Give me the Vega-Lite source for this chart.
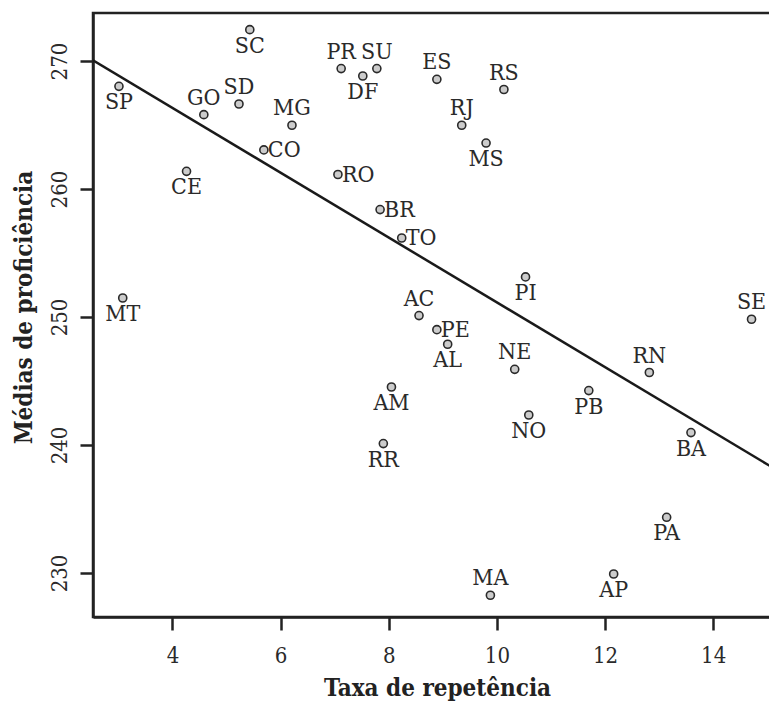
{
  "$schema": "https://vega.github.io/schema/vega-lite/v6.json",
  "autosize": "none",
  "width": 678,
  "height": 604,
  "padding": {"left": 93, "top": 13, "right": 0, "bottom": 86},
  "background": "white",
  "config": {
    "view": {"stroke": "#222222", "strokeWidth": 2.5},
    "font": "DejaVu Serif Condensed, DejaVu Serif",
    "axis": {
      "domainColor": "#222222", "domainWidth": 2.5,
      "tickColor": "#222222", "tickWidth": 2.5, "tickSize": 13,
      "labelFont": "DejaVu Serif Condensed, DejaVu Serif", "labelFontSize": 22, "labelColor": "#2a2a2a",
      "titleFont": "DejaVu Serif Condensed, DejaVu Serif", "titleFontSize": 24, "titleFontWeight": "bold", "titleColor": "#222222",
      "grid": false
    }
  },
  "datasets": {
    "ufs": [
      {"uf": "SC", "taxa": 5.43, "media": 272.45},
      {"uf": "SP", "taxa": 3.01, "media": 268.02},
      {"uf": "GO", "taxa": 4.58, "media": 265.81},
      {"uf": "SD", "taxa": 5.23, "media": 266.64},
      {"uf": "PR", "taxa": 7.12, "media": 269.41},
      {"uf": "DF", "taxa": 7.52, "media": 268.83},
      {"uf": "SU", "taxa": 7.78, "media": 269.41},
      {"uf": "MG", "taxa": 6.21, "media": 264.98},
      {"uf": "CO", "taxa": 5.69, "media": 263.05},
      {"uf": "CE", "taxa": 4.26, "media": 261.38},
      {"uf": "RO", "taxa": 7.06, "media": 261.13},
      {"uf": "BR", "taxa": 7.84, "media": 258.39},
      {"uf": "MT", "taxa": 3.08, "media": 251.48},
      {"uf": "ES", "taxa": 8.89, "media": 268.57},
      {"uf": "RS", "taxa": 10.13, "media": 267.77},
      {"uf": "RJ", "taxa": 9.35, "media": 264.98},
      {"uf": "MS", "taxa": 9.80, "media": 263.59},
      {"uf": "TO", "taxa": 8.24, "media": 256.17},
      {"uf": "PI", "taxa": 10.53, "media": 253.13},
      {"uf": "SE", "taxa": 14.71, "media": 249.82},
      {"uf": "AC", "taxa": 8.56, "media": 250.11},
      {"uf": "PE", "taxa": 8.89, "media": 249.01},
      {"uf": "AL", "taxa": 9.09, "media": 247.87},
      {"uf": "NE", "taxa": 10.33, "media": 245.91},
      {"uf": "RN", "taxa": 12.82, "media": 245.66},
      {"uf": "AM", "taxa": 8.05, "media": 244.53},
      {"uf": "PB", "taxa": 11.70, "media": 244.25},
      {"uf": "NO", "taxa": 10.59, "media": 242.34},
      {"uf": "RR", "taxa": 7.90, "media": 240.11},
      {"uf": "BA", "taxa": 13.59, "media": 240.97},
      {"uf": "PA", "taxa": 13.14, "media": 234.35},
      {"uf": "AP", "taxa": 12.16, "media": 229.92},
      {"uf": "MA", "taxa": 9.88, "media": 228.26}
    ],
    "fit": [
      {"taxa": 2.53, "media": 270.05},
      {"taxa": 15.07, "media": 238.31}
    ]
  },
  "encoding": {
    "x": {
      "field": "taxa", "type": "quantitative",
      "scale": {"domain": [2.53, 15.07], "nice": false, "zero": false},
      "axis": {"values": [4, 6, 8, 10, 12, 14], "title": "Taxa de repetência", "labelPadding": 15, "titlePadding": 10, "titleX": 344}
    },
    "y": {
      "field": "media", "type": "quantitative",
      "scale": {"domain": [226.56, 273.75], "nice": false, "zero": false},
      "axis": {"values": [230, 240, 250, 260, 270], "title": "Médias de proficiência", "labelAngle": -90, "labelAlign": "center", "labelBaseline": "bottom", "labelPadding": 9, "titlePadding": 12, "titleY": 294}
    }
  },
  "layer": [
    {
      "data": {"name": "fit"},
      "mark": {"type": "line", "color": "#1a1a1a", "strokeWidth": 2.5, "clip": true}
    },
    {
      "data": {"name": "ufs"},
      "mark": {"type": "point", "shape": "circle", "filled": true, "fill": "#cccccc", "stroke": "#2a2a2a", "strokeWidth": 1.6, "size": 65, "opacity": 1}
    },
    {
      "data": {"name": "ufs"},
      "transform": [{"filter": {"field": "uf", "oneOf": ["GO", "SD", "PR", "SU", "MG", "ES", "RS", "RJ", "SE", "AC", "NE", "RN", "MA"]}}],
      "mark": {"type": "text", "fontSize": 23, "color": "#2a2a2a", "align": "center", "baseline": "middle", "dy": -17},
      "encoding": {"text": {"field": "uf"}}
    },
    {
      "data": {"name": "ufs"},
      "transform": [{"filter": {"field": "uf", "oneOf": ["SC", "SP", "DF", "CE", "MT", "MS", "PI", "AL", "AM", "PB", "NO", "RR", "BA", "PA", "AP"]}}],
      "mark": {"type": "text", "fontSize": 23, "color": "#2a2a2a", "align": "center", "baseline": "middle", "dy": 16},
      "encoding": {"text": {"field": "uf"}}
    },
    {
      "data": {"name": "ufs"},
      "transform": [{"filter": {"field": "uf", "oneOf": ["CO", "RO", "BR", "TO", "PE"]}}],
      "mark": {"type": "text", "fontSize": 23, "color": "#2a2a2a", "align": "left", "baseline": "middle", "dx": 4},
      "encoding": {"text": {"field": "uf"}}
    }
  ]
}
